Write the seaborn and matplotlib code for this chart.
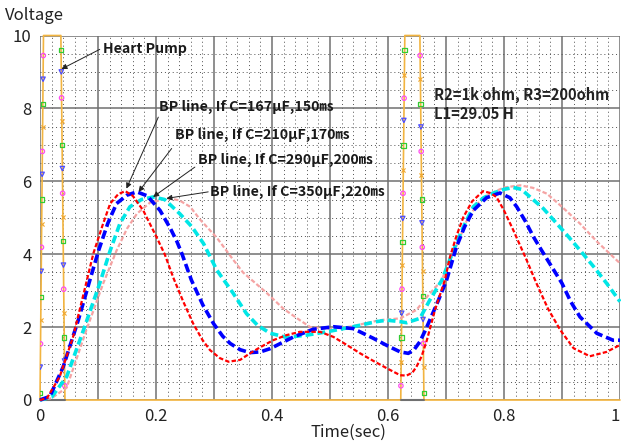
import numpy as np
import pandas as pd
import matplotlib
matplotlib.use("Agg")
import matplotlib.pyplot as plt
from matplotlib.ticker import MultipleLocator
import seaborn as sns

# ---------------- data ----------------
red_x = [0, 0.012, 0.034, 0.057, 0.078, 0.092, 0.108, 0.121, 0.135, 0.147, 0.16, 0.178, 0.2, 0.215, 0.23,
         0.247, 0.264, 0.28, 0.293, 0.31, 0.325, 0.345, 0.362, 0.38, 0.402, 0.425, 0.448, 0.483, 0.506, 0.53,
         0.552, 0.575, 0.598, 0.621, 0.632, 0.642, 0.649, 0.658, 0.667, 0.681, 0.698, 0.707, 0.718, 0.73,
         0.745, 0.764, 0.776, 0.787, 0.8, 0.816, 0.839, 0.856, 0.876, 0.897, 0.92, 0.948, 0.977, 1.0]
red_y = [0, 0.05, 0.64, 1.73, 3.1, 4.02, 4.8, 5.39, 5.65, 5.73, 5.6, 5.2, 4.5, 4.0, 3.35,
         2.7, 2.1, 1.65, 1.37, 1.15, 1.05, 1.1, 1.28, 1.45, 1.64, 1.78, 1.87, 1.87, 1.73, 1.5,
         1.28, 1.07, 0.87, 0.68, 0.67, 0.75, 0.91, 1.2, 1.64, 2.47, 3.29, 3.93, 4.5, 5.02,
         5.45, 5.73, 5.68, 5.57, 5.2, 4.66, 3.84, 3.2, 2.5, 1.92, 1.42, 1.2, 1.32, 1.51]

blue_x = [0, 0.017, 0.04, 0.066, 0.086, 0.101, 0.117, 0.132, 0.15, 0.167, 0.185, 0.207, 0.225, 0.236,
          0.245, 0.261, 0.281, 0.299, 0.315, 0.328, 0.345, 0.362, 0.38, 0.397, 0.417, 0.437, 0.471, 0.506,
          0.54, 0.575, 0.6, 0.621, 0.635, 0.645, 0.655, 0.664, 0.672, 0.687, 0.701, 0.718, 0.732, 0.747,
          0.77, 0.793, 0.81, 0.822, 0.837, 0.851, 0.865, 0.879, 0.9, 0.915, 0.931, 0.96, 0.988, 1.0]
blue_y = [0, 0.1, 0.91, 2.19, 3.29, 4.1, 4.85, 5.39, 5.62, 5.71, 5.6, 5.2, 4.7, 4.35,
          4.0, 3.29, 2.6, 2.1, 1.75, 1.55, 1.38, 1.3, 1.32, 1.41, 1.57, 1.73, 1.94, 2.01,
          1.96, 1.69, 1.48, 1.32, 1.28, 1.38, 1.6, 1.9, 2.19, 2.74, 3.29, 4.2, 4.75, 5.2,
          5.55, 5.68, 5.55, 5.3, 4.9, 4.47, 4.1, 3.74, 3.2, 2.7, 2.28, 1.83, 1.64, 1.64]

cyan_x = [0, 0.02, 0.046, 0.075, 0.103, 0.121, 0.138, 0.155, 0.175, 0.195, 0.215, 0.241, 0.262, 0.282,
          0.305, 0.333, 0.356, 0.375, 0.397, 0.425, 0.46, 0.494, 0.54, 0.58, 0.598, 0.621, 0.632, 0.655,
          0.672, 0.693, 0.713, 0.73, 0.747, 0.765, 0.782, 0.8, 0.816, 0.83, 0.845, 0.868, 0.891, 0.91,
          0.931, 0.955, 0.977, 1.0]
cyan_y = [0, 0.08, 0.64, 1.92, 3.2, 4.1, 4.85, 5.3, 5.5, 5.57, 5.5, 5.11, 4.75, 4.29,
          3.56, 2.93, 2.37, 2.05, 1.83, 1.72, 1.78, 1.87, 2.01, 2.15, 2.19, 2.15, 2.12, 2.24,
          2.74, 3.29, 4.11, 4.75, 5.3, 5.55, 5.68, 5.78, 5.83, 5.78, 5.57, 5.25, 4.84, 4.5,
          4.11, 3.65, 3.2, 2.7]

pink_x = [0, 0.02, 0.046, 0.08, 0.109, 0.132, 0.15, 0.167, 0.19, 0.221, 0.24, 0.259, 0.276, 0.305,
          0.333, 0.35, 0.39, 0.42, 0.448, 0.466, 0.5, 0.534, 0.56, 0.586, 0.621, 0.649, 0.672, 0.693,
          0.701, 0.72, 0.736, 0.755, 0.776, 0.8, 0.828, 0.85, 0.874, 0.9, 0.931, 0.96, 0.994, 1.0]
pink_y = [0, 0.05, 0.34, 1.92, 3.2, 4.1, 4.7, 5.11, 5.42, 5.53, 5.48, 5.3, 4.95, 4.45,
          3.85, 3.5, 2.95, 2.5, 2.19, 2.0, 1.95, 2.01, 2.1, 2.19, 2.24, 2.47, 2.92, 3.29,
          3.65, 4.3, 4.93, 5.4, 5.66, 5.83, 5.89, 5.82, 5.66, 5.3, 4.84, 4.35, 3.84, 3.75]

# heart pump pulse (trapezoid)
pump_x = [0, 0.006, 0.036, 0.043, 0.622, 0.629, 0.655, 0.662, 1.0]
pump_y = [0, 10, 10, 0, 0, 10, 10, 0, 0]

# markers sitting on the pulse edges (edge index, voltage, kind)
edge_bottom_x = [0.0, 0.043, 0.622, 0.662]
edge_top_x = [0.006, 0.036, 0.629, 0.655]
mk_edge = ([0] * 15) + ([1] * 15) + ([2] * 15) + ([3] * 15)
mk_v = [9.45, 8.8, 8.12, 7.49, 6.82, 6.19, 5.5, 4.84, 4.19, 3.53, 2.83, 2.19, 1.54, 0.9, 0.19,
        9.6, 9.0, 8.29, 7.65, 6.99, 6.35, 5.67, 5.02, 4.36, 3.7, 3.04, 2.39, 1.72, 1.07, 0.39,
        9.6, 8.93, 8.28, 7.67, 6.98, 6.32, 5.67, 4.98, 4.34, 3.7, 3.04, 2.38, 1.71, 1.05, 0.39,
        9.45, 8.8, 8.12, 7.49, 6.82, 6.16, 5.5, 4.86, 4.19, 3.54, 2.85, 2.21, 1.55, 0.9, 0.2]
mk_kind = ["M", "B", "G", "O"] * 3 + ["M", "B", "G"] + \
          ["G", "B", "M", "O"] * 3 + ["G", "B", "M"] + \
          ["G", "O", "M", "B"] * 3 + ["G", "O", "M"] + \
          ["M", "O", "G", "B"] * 3 + ["M", "O", "G"]

labels = ["BP line, If C=167\u03bcF,150\u33b3", "BP line, If C=210\u03bcF,170\u33b3",
          "BP line, If C=290\u03bcF,200\u33b3", "BP line, If C=350\u03bcF,220\u33b3"]
label_pos = [(0.206, 8.04), (0.233, 7.26), (0.273, 6.58), (0.293, 5.71)]
arrow_tail = [(0.204, 7.76), (0.227, 6.9), (0.267, 6.39), (0.29, 5.71)]
arrow_head = [(0.149, 5.8), (0.17, 5.71), (0.195, 5.57), (0.218, 5.53)]

x_ticks = [0, 0.1, 0.2, 0.3, 0.4, 0.5, 0.6, 0.7, 0.8, 0.9, 1.0]
x_ticklabels = ["0", "", "0.2", "", "0.4", "", "0.6", "", "0.8", "", "1"]
y_ticks = [0, 2, 4, 6, 8, 10]
y_ticklabels = ["0", "2", "4", "6", "8", "10"]

# ---------------- style ----------------
sns.set_style("white")
plt.rcParams["font.family"] = ["Noto Sans CJK KR", "DejaVu Sans"]

fig = plt.figure(figsize=(6.21, 4.43), dpi=100)
ax = fig.add_axes([40 / 621, 43 / 443, 580 / 621, 364.5 / 443])
ax.set_xlim(0, 1)
ax.set_ylim(0, 10)

for s in ax.spines.values():
    s.set_visible(False)

ax.set_xticks(x_ticks)
ax.set_xticklabels(x_ticklabels)
ax.set_yticks(y_ticks)
ax.set_yticklabels(y_ticklabels)
ax.xaxis.set_minor_locator(MultipleLocator(0.02))
ax.yaxis.set_minor_locator(MultipleLocator(0.5))
ax.grid(which="major", color="#707070", lw=1.1, ls="-")
ax.grid(which="minor", color="#505050", lw=0.7, ls=(0, (1, 3)))
ax.set_axisbelow(True)
ax.tick_params(which="minor", length=0)
ax.tick_params(axis="x", which="major", length=5, color="#808080", labelsize=12, pad=1)
ax.tick_params(axis="y", which="major", length=3, color="#808080", labelsize=12, pad=3)
for t in ax.get_xticklabels() + ax.get_yticklabels():
    t.set_color("#222222")
ax.get_xticklabels()[-1].set_horizontalalignment("right")

# pulse
pump_df = pd.DataFrame({"t": pump_x, "v": pump_y})
sns.lineplot(data=pump_df, x="t", y="v", ax=ax, color="#f2b440", lw=1.2, sort=False,
             estimator=None, clip_on=False, zorder=3)
# grey baseline segments under pulses
for a, b in [(0, 3), (4, 7)]:
    seg = pd.DataFrame({"t": [pump_x[a], pump_x[b]], "v": [0, 0]})
    sns.lineplot(data=seg, x="t", y="v", ax=ax, color="#707070", lw=1.5, sort=False,
                 estimator=None, clip_on=False, zorder=3)

# markers on pulse edges
mk_x = [np.interp(v, [0, 10], [edge_bottom_x[e], edge_top_x[e]]) for e, v in zip(mk_edge, mk_v)]
mk_df = pd.DataFrame({"t": mk_x, "v": mk_v, "k": mk_kind})
mk_style = {"M": dict(marker="o", color="#ff4df0"), "B": dict(marker="v", color="#4d4dff"),
            "G": dict(marker="s", color="#33cc33"), "O": dict(marker="x", color="#f0a830")}
for k, st in mk_style.items():
    sub = mk_df[mk_df.k == k]
    if k == "O":
        sns.scatterplot(data=sub, x="t", y="v", ax=ax, marker="x", color=st["color"], s=9,
                        linewidth=0.8, zorder=4)
    else:
        sns.scatterplot(data=sub, x="t", y="v", ax=ax, marker=st["marker"], s=10,
                        facecolor="none", edgecolor=st["color"], linewidth=0.9, zorder=4)

# BP curves
curves = [
    (pink_x, pink_y, "#f5a3a3", 1.6, (0, (2.0, 1.0))),
    (cyan_x, cyan_y, "#00e6e6", 2.6, (0, (2.2, 1.1))),
    (blue_x, blue_y, "#0000ff", 2.6, (0, (2.4, 1.1))),
    (red_x, red_y, "#ff0000", 1.6, (0, (2.0, 1.0))),
]
for xs, ys, col, lw, ls in curves:
    df = pd.DataFrame({"t": xs, "v": ys})
    sns.lineplot(data=df, x="t", y="v", ax=ax, color=col, lw=lw, linestyle=ls, sort=False,
                 estimator=None, clip_on=False, zorder=5)

ax.set_xlabel("")
ax.set_ylabel("")

# annotations
for lab, (tx, ty), tail, head in zip(labels, label_pos, arrow_tail, arrow_head):
    ax.text(tx, ty, lab, ha="left", va="center", fontsize=10.3, fontweight="bold",
            color="#1a1a1a", zorder=7)
    ax.annotate("", xy=head, xytext=tail,
                arrowprops=dict(arrowstyle="-|>", color="#222222", lw=0.7, mutation_scale=8,
                                shrinkA=0, shrinkB=0), zorder=7)

ax.text(0.109, 9.62, "Heart Pump", ha="left", va="center", fontsize=10.2, fontweight="bold",
        color="#1a1a1a", zorder=7)
ax.annotate("", xy=(0.037, 9.08), xytext=(0.103, 9.62),
            arrowprops=dict(arrowstyle="-|>", color="#222222", lw=0.7, mutation_scale=8,
                            shrinkA=0, shrinkB=0), zorder=7)

ax.text(0.679, 8.36, "R2=1k ohm, R3=200ohm", ha="left", va="center", fontsize=10.6,
        fontweight="bold", color="#222222", zorder=7)
ax.text(0.679, 7.86, "L1=29.05 H", ha="left", va="center", fontsize=10.6,
        fontweight="bold", color="#222222", zorder=7)

fig.text(5 / 621, 1 - 15 / 443, "Voltage", ha="left", va="center", fontsize=12, color="#222222")
fig.text(348 / 621, 1 - 432 / 443, "Time(sec)", ha="center", va="center", fontsize=12, color="#222222")

fig.savefig("out.png", dpi=100)
